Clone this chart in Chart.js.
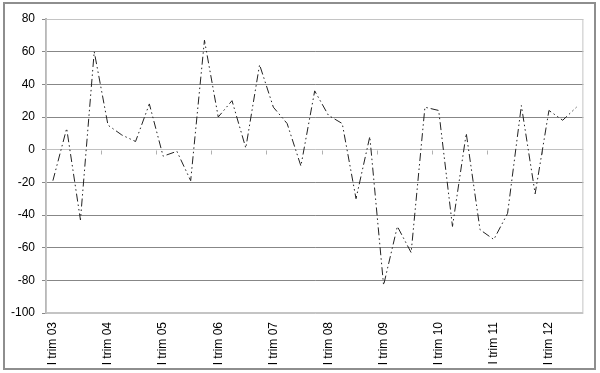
<!DOCTYPE html>
<html>
<head>
<meta charset="utf-8">
<script src="https://cdn.jsdelivr.net/npm/chart.js@4.4.1/dist/chart.umd.min.js"></script>
<style>
    html, body { margin: 0; padding: 0; background: #fff; }
    #wrap { width: 600px; height: 373px; position: relative; }
</style>
</head>
<body>
<div id="wrap"><canvas id="chart"></canvas></div>
<script>
// quarterly values, I trim 03 .. III trim 12
const values = [
    -19, 13, -43, 60,
    15, 9, 5, 28,
    -4, -1, -19, 67,
    20, 30, 1, 52,
    26, 16, -10, 36,
    21, 16, -30, 8,
    -83, -47, -63, 26,
    24, -47, 10, -49,
    -55, -39, 27, -27,
    24, 18, 26,
];
const years = ["03", "04", "05", "06", "07", "08", "09", "10", "11", "12"];
const yTicks = [-100, -80, -60, -40, -20, 0, 20, 40, 60, 80];

// only first quarter of each year gets a label
const labels = values.map((v, i) => (i % 4 === 0 ? "I trim " + years[i / 4] : ""));

const FONT = "'Liberation Sans', Arial, sans-serif";

const framePlugin = {
    id: "frame",
    beforeDatasetsDraw(chart) {
        const { ctx, chartArea: a, scales } = chart;
        ctx.save();
        // plot area border
        ctx.strokeStyle = "#c4c4c4";
        ctx.lineWidth = 1;
        ctx.strokeRect(a.left + 0.5, a.top + 0.5, a.right - a.left - 1, a.bottom - a.top - 1);
        // category tick marks on the zero line
        const y0 = Math.round(scales.y.getPixelForValue(0)) + 0.5;
        ctx.strokeStyle = "#b0b0b0";
        ctx.beginPath();
        for (let i = 4; i < values.length; i += 4) {
            const x = Math.round((scales.x.getPixelForValue(i - 1) + scales.x.getPixelForValue(i)) / 2) + 0.5;
            ctx.moveTo(x, y0);
            ctx.lineTo(x, y0 + 4);
        }
        ctx.stroke();
        ctx.restore();
    },
    afterDraw(chart) {
        const { ctx } = chart;
        ctx.save();
        ctx.strokeStyle = "#8e8e8e";
        ctx.lineWidth = 2;
        ctx.strokeRect(4, 3, 591, 366);
        ctx.restore();
    },
};

new Chart(document.getElementById("chart"), {
    type: "line",
    data: {
        labels,
        datasets: [{
            data: values,
            borderColor: "#222",
            borderWidth: 1,
            borderDash: [8, 3, 1.5, 3, 1.5, 3],
            pointRadius: 0,
            fill: false,
            tension: 0,
        }],
    },
    options: {
        responsive: true,
        maintainAspectRatio: false,
        animation: false,
        layout: { padding: { left: 0, right: 9, top: 19, bottom: 0 } },
        plugins: {
            legend: { display: false },
            tooltip: { enabled: false },
        },
        scales: {
            x: {
                type: "category",
                offset: true,
                grid: { display: false, drawTicks: false },
                border: { display: false },
                ticks: {
                    autoSkip: false,
                    minRotation: 90,
                    maxRotation: 90,
                    padding: 9,
                    color: "#000",
                    font: { family: FONT, size: 12 },
                },
                afterFit: (s) => { s.height = 60; },
            },
            y: {
                min: -100,
                max: 80,
                afterBuildTicks: (s) => { s.ticks = yTicks.map((v) => ({ value: v })); },
                grid: {
                    color: (c) => {
                        const v = c.tick && c.tick.value;
                        if (v === 0) return "#c0c0c0";
                        if (v === 80 || v === -100) return "#c4c4c4";
                        return "#878787";
                    },
                    tickColor: "#878787",
                    tickLength: 4,
                    lineWidth: 1,
                },
                border: { color: "#b8b8b8", width: 2 },
                ticks: {
                    padding: 7,
                    color: "#000",
                    font: { family: FONT, size: 12 },
                },
                afterFit: (s) => { s.width = 46; },
            },
        },
    },
    plugins: [framePlugin],
});
</script>
</body>
</html>
